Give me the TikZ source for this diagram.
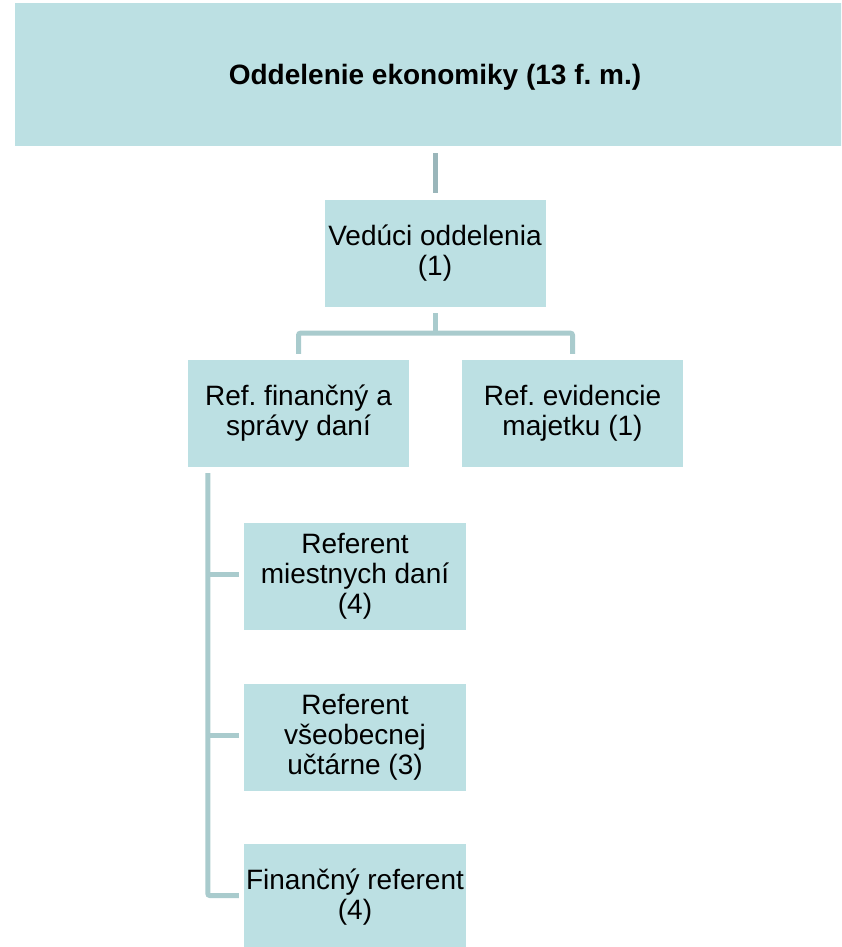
\documentclass[tikz,border=0pt]{standalone}
\usepackage{fontspec}
\setmainfont{Liberation Sans}
\usetikzlibrary{calc}
\definecolor{boxfill}{HTML}{BCE0E3}
\definecolor{lineA}{HTML}{9AB6BA}
\definecolor{lineB}{HTML}{A9CBCD}
\frenchspacing
\begin{document}
\begin{tikzpicture}[x=1pt,y=-1pt,
  orgbox/.style={fill=boxfill, draw=none, inner sep=0pt, align=center,
    minimum width=221pt, minimum height=107pt, font=\fontsize{28}{30}\selectfont\frenchspacing},
  conn/.style={draw=lineB, line width=5pt},
  conntop/.style={draw=lineA, line width=5pt}]
\useasboundingbox (0,0) rectangle (841,947);
\clip (0,0) rectangle (841,947);
\node[orgbox, minimum width=840pt, minimum height=143pt] (top) at (435,74.5) {\raisebox{-9.5pt}[0pt][0pt]{\bfseries Oddelenie ekonomiky (13 f. m.)}};
\node[orgbox] (ved) at (435,253.5) {Vedúci oddelenia\\(1)};
\node[orgbox] (fin) at (298.5,413.5) {Ref. finančný a\\správy daní};
\node[orgbox] (maj) at (572.5,413.5) {Ref. evidencie\\majetku (1)};
\node[orgbox, minimum width=222pt] (s1) at (355,576) {Referent\\miestnych daní\\(4)};
\node[orgbox, minimum width=222pt] (s2) at (355,737) {Referent\\všeobecnej\\učtárne (3)};
\node[orgbox, minimum width=222pt] (s3) at (355,897.5) {Finančný referent\\(4)};
% connectors
\draw[conntop] ($(ved.north |- top.south)+(0,7)$) -- ($(ved.north)+(0,-7)$);
\coordinate (bus) at ($(ved.south)+(0,26)$);
\draw[conn] ($(ved.south)+(0,6)$) -- (bus);
\draw[conn, rounded corners=2pt] ($(fin.north)+(0,-6)$) |- (bus) -| ($(maj.north)+(0,-6)$);
\coordinate (spine) at ($(fin.south west)+(20,6)$);
\draw[conn, rounded corners=2pt] (spine) |- ($(s3.west)+(-5,-2)$);
\draw[conn] ($(spine |- s1.west)+(0,-1.5)$) -- ($(s1.west)+(-5,-1.5)$);
\draw[conn] ($(spine |- s2.west)+(0,-1.5)$) -- ($(s2.west)+(-5,-1.5)$);
\end{tikzpicture}
\end{document}
